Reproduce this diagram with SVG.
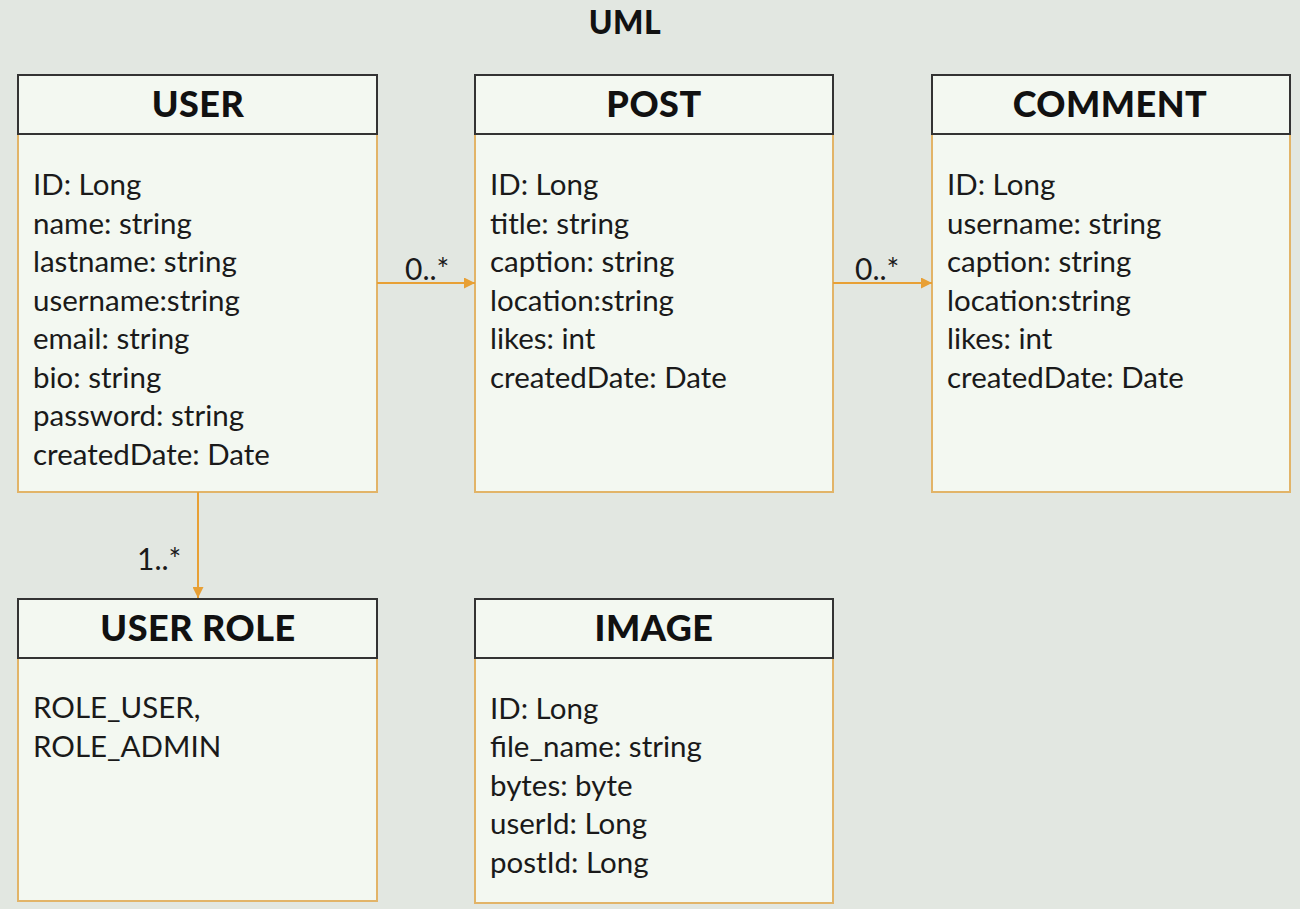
<svg xmlns="http://www.w3.org/2000/svg" width="1300" height="909" viewBox="0 0 1300 909">
<defs>
<marker id="arr" viewBox="0 0 10 10" refX="10" refY="5" markerWidth="11" markerHeight="11" markerUnits="userSpaceOnUse" orient="auto">
<path d="M0,0 L10,5 L0,10 z" fill="#e8a035"/>
</marker>
</defs>
<style>
.body{fill:#f3f8f1;stroke:#e2b468;stroke-width:2}
.head{fill:#f3f8f1;stroke:#333;stroke-width:2}
.ttl{font-family:Lato,"Liberation Sans",sans-serif;font-weight:900;font-size:36px;fill:#111;text-anchor:middle;letter-spacing:0.5px}
.attr{font-family:Lato,"Liberation Sans",sans-serif;font-size:29.5px;fill:#1a1a1a}
.lbl{font-family:Lato,"Liberation Sans",sans-serif;font-size:30px;fill:#1a1a1a}
.conn{stroke:#e8a035;stroke-width:2;fill:none}
</style>
<rect width="1300" height="909" fill="#e2e7e1"/>
<text x="625" y="34" class="ttl" style="font-size:32px">UML</text>
<g id="user">
<rect x="18" y="134" width="359" height="358" class="body"/>
<rect x="18" y="75" width="359" height="59" class="head"/>
<text x="198" y="117" class="ttl">USER</text>
<text class="attr"><tspan x="33" y="195">ID: Long</tspan><tspan x="33" y="234">name: string</tspan><tspan x="33" y="272">lastname: string</tspan><tspan x="33" y="311">username:string</tspan><tspan x="33" y="349">email: string</tspan><tspan x="33" y="388">bio: string</tspan><tspan x="33" y="426">password: string</tspan><tspan x="33" y="465">createdDate: Date</tspan></text>
</g>
<g id="post">
<rect x="475" y="134" width="358" height="358" class="body"/>
<rect x="475" y="75" width="358" height="59" class="head"/>
<text x="654" y="117" class="ttl">POST</text>
<text class="attr"><tspan x="490" y="195">ID: Long</tspan><tspan x="490" y="234">title: string</tspan><tspan x="490" y="272">caption: string</tspan><tspan x="490" y="311">location:string</tspan><tspan x="490" y="349">likes: int</tspan><tspan x="490" y="388">createdDate: Date</tspan></text>
</g>
<g id="comment">
<rect x="932" y="134" width="358" height="358" class="body"/>
<rect x="932" y="75" width="358" height="59" class="head"/>
<text x="1110" y="117" class="ttl">COMMENT</text>
<text class="attr"><tspan x="947" y="195">ID: Long</tspan><tspan x="947" y="234">username: string</tspan><tspan x="947" y="272">caption: string</tspan><tspan x="947" y="311">location:string</tspan><tspan x="947" y="349">likes: int</tspan><tspan x="947" y="388">createdDate: Date</tspan></text>
</g>
<g id="userrole">
<rect x="18" y="658" width="359" height="243" class="body"/>
<rect x="18" y="599" width="359" height="59" class="head"/>
<text x="198" y="641" class="ttl">USER ROLE</text>
<text class="attr"><tspan x="33" y="718">ROLE_USER,</tspan><tspan x="33" y="757">ROLE_ADMIN</tspan></text>
</g>
<g id="image">
<rect x="475" y="658" width="358" height="245" class="body"/>
<rect x="475" y="599" width="358" height="59" class="head"/>
<text x="654" y="641" class="ttl">IMAGE</text>
<text class="attr"><tspan x="490" y="719">ID: Long</tspan><tspan x="490" y="757">file_name: string</tspan><tspan x="490" y="796">bytes: byte</tspan><tspan x="490" y="834">userId: Long</tspan><tspan x="490" y="873">postId: Long</tspan></text>
</g>
<g id="connectors">
<line x1="377" y1="283" x2="475" y2="283" class="conn" marker-end="url(#arr)"/>
<line x1="833" y1="283" x2="932" y2="283" class="conn" marker-end="url(#arr)"/>
<line x1="198" y1="492" x2="198" y2="598" class="conn" marker-end="url(#arr)"/>
<text x="405" y="280" class="lbl">0..*</text>
<text x="855" y="280" class="lbl">0..*</text>
<text x="137" y="570" class="lbl">1..*</text>
</g>
</svg>
